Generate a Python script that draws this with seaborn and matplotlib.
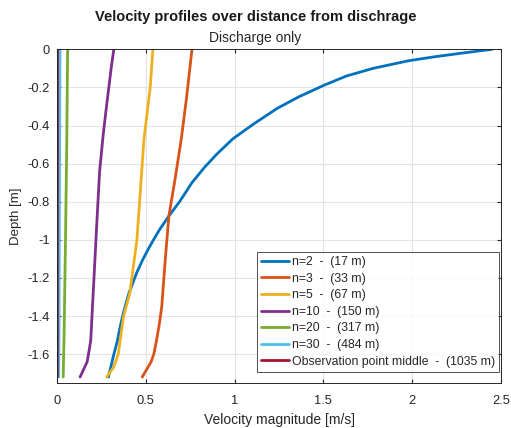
import pandas as pd
import numpy as np
import seaborn as sns
import matplotlib.pyplot as plt

# =============================================================================
# Data
# =============================================================================

labels = [
    "n=2  -  (17 m)",
    "n=3  -  (33 m)",
    "n=5  -  (67 m)",
    "n=10  -  (150 m)",
    "n=20  -  (317 m)",
    "n=30  -  (484 m)",
    "Observation point middle  -  (1035 m)",
]

colors = ["#0072BD", "#D95319", "#EDB120", "#7E2F8E", "#77AC30", "#4DBEEE", "#A2142F"]

vel_n2 = [2.45, 2.28, 2.12, 1.98, 1.78, 1.63, 1.50, 1.36, 1.24, 1.11, 0.99, 0.90, 0.83,
          0.76, 0.69, 0.63, 0.575, 0.525, 0.485, 0.45, 0.405, 0.375, 0.355, 0.34, 0.315, 0.29]
dep_n2 = [0.00, -0.02, -0.04, -0.06, -0.10, -0.14, -0.19, -0.25, -0.31, -0.39, -0.47, -0.55, -0.62,
          -0.70, -0.80, -0.875, -0.95, -1.03, -1.10, -1.17, -1.28, -1.38, -1.46, -1.53, -1.62, -1.72]

vel_n3 = [0.76, 0.73, 0.70, 0.665, 0.63, 0.61, 0.59, 0.575, 0.56, 0.545, 0.53, 0.505, 0.48]
dep_n3 = [0.00, -0.25, -0.47, -0.68, -0.875, -1.10, -1.35, -1.45, -1.53, -1.60, -1.64, -1.68, -1.72]

vel_n5 = [0.54, 0.525, 0.49, 0.45, 0.41, 0.375, 0.345, 0.318, 0.28]
dep_n5 = [0.00, -0.20, -0.47, -1.00, -1.28, -1.40, -1.60, -1.67, -1.72]

vel_n10 = [0.32, 0.305, 0.28, 0.26, 0.24, 0.225, 0.21, 0.20, 0.19, 0.17, 0.13]
dep_n10 = [0.00, -0.10, -0.29, -0.45, -0.64, -0.90, -1.17, -1.35, -1.53, -1.64, -1.72]

vel_n20 = [0.060, 0.055, 0.048, 0.040, 0.035]
dep_n20 = [0.00, -0.50, -1.00, -1.50, -1.72]

vel_n30 = [0.017, 0.015, 0.013, 0.011, 0.010]
dep_n30 = [0.00, -0.50, -1.00, -1.50, -1.72]

vel_obs = [0.003, 0.003, 0.002, 0.002, 0.002]
dep_obs = [0.00, -0.50, -1.00, -1.50, -1.72]

series_vel = [vel_n2, vel_n3, vel_n5, vel_n10, vel_n20, vel_n30, vel_obs]
series_dep = [dep_n2, dep_n3, dep_n5, dep_n10, dep_n20, dep_n30, dep_obs]

frames = []
for lab, v, d in zip(labels, series_vel, series_dep):
    frames.append(pd.DataFrame({"Velocity": v, "Depth": d, "Series": lab}))
df = pd.concat(frames, ignore_index=True)

# =============================================================================
# Plot
# =============================================================================

sns.set_style("whitegrid")
plt.rcParams["font.family"] = ["Liberation Sans", "DejaVu Sans"]

fig = plt.figure(figsize=(5.11, 4.28), dpi=100)
ax = fig.add_axes([0.1115, 0.1058, 0.869, 0.779])

sns.lineplot(
    data=df,
    x="Velocity",
    y="Depth",
    hue="Series",
    hue_order=labels,
    palette=colors,
    sort=False,
    estimator=None,
    linewidth=2,
    ax=ax,
)

ax.set_xlim(0, 2.5)
ax.set_ylim(-1.75, 0)
ax.set_xticks([0, 0.5, 1, 1.5, 2, 2.5])
ax.set_xticklabels(["0", "0.5", "1", "1.5", "2", "2.5"])
yt = [0, -0.2, -0.4, -0.6, -0.8, -1, -1.2, -1.4, -1.6]
ax.set_yticks(yt)
ax.set_yticklabels(["0", "-0.2", "-0.4", "-0.6", "-0.8", "-1", "-1.2", "-1.4", "-1.6"])

ax.grid(True, color="#e3e3e3", linewidth=0.8)
for s in ax.spines.values():
    s.set_color("#262626")
    s.set_linewidth(0.7)
ax.tick_params(direction="in", length=3, color="#262626", labelsize=9.3,
               labelcolor="#262626", top=True, right=True, bottom=True, left=True)
ax.tick_params(axis="x", pad=9)
ax.tick_params(axis="y", pad=5)

ax.set_xlabel("Velocity magnitude [m/s]", fontsize=10, color="#262626", labelpad=4)
ax.set_ylabel("Depth [m]", fontsize=9.5, color="#262626", labelpad=4)

fig.text(0.5, 1 - 16.5 / 428, "Velocity profiles over distance from dischrage",
         ha="center", va="center", fontsize=10.5, fontweight="bold", color="#1a1a1a")
fig.text(0.5, 1 - 38 / 428, "Discharge only", ha="center", va="center",
         fontsize=10, color="#262626")

leg = ax.legend(
    loc="lower right",
    bbox_to_anchor=(0.9955, 0.032),
    fontsize=8.8,
    frameon=True,
    fancybox=False,
    edgecolor="#262626",
    handlelength=2.3,
    handletextpad=0.2,
    labelspacing=0.38,
    borderpad=0.35,
    borderaxespad=0,
)
leg.get_frame().set_linewidth(0.7)

fig.savefig("out.png", dpi=100)
